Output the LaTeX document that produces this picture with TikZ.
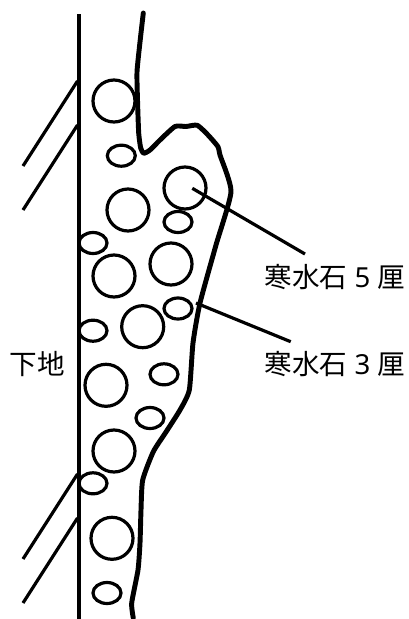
\documentclass[tikz,border=0pt]{standalone}
\usepackage{fontspec}
\setmainfont{Noto Sans}
\newfontfamily\cjkfont{Noto Sans CJK JP}
\begin{document}
\begin{tikzpicture}[x=0.75pt,y=-0.75pt,
  thinline/.style={draw=black,line width=2.4pt},
  thickline/.style={draw=black,line width=3.7pt,line join=round,line cap=round},
  stonebig/.style={draw=black,line width=2.4pt},
  labeltext/.style={inner sep=0pt,font=\fontsize{20.7}{24}\selectfont,text=black}]
\useasboundingbox (0,0) rectangle (409,619);
% substrate
\draw[thinline] (79,14) -- (79,619);
\draw[thinline] (77.5,81) -- (23,166);
\draw[thinline] (77.5,125) -- (23,210);
\draw[thinline] (77.5,474) -- (23,559);
\draw[thinline] (77.5,518) -- (23,603);
% outline of the plaster
\draw[thickline] plot[smooth,tension=0.35] coordinates {
 (143.3,13) (140,42) (137,72) (137.5,100) (138.7,133) (140.7,148) (143.7,153.3) (150,150)
 (160,140) (175,126.5) (186,126.5) (197.3,125.3) (208,135) (218,146.7) (220,155) (231,191.7)
 (216,245) (200,303) (193,343) (189.3,390) (180,410) (166,432) (153.3,451.7) (142.7,480)
 (141,510) (140,543) (138,570) (131.7,603) (133.3,618)};
% 5-li stones
\foreach \cx/\cy in {114/101,128/210,185/188,114/276,171/264,142.7/326.7,106/385.3,114/451,112/538.3}
  \draw[stonebig] (\cx,\cy) circle[radius=21];
% 3-li stones
\foreach \cx/\cy in {121.3/155.7,178/222,93/243,178/308.5,93/330.7,164/374.3,150/418,93/483.3,107/593}
  \draw[stonebig] (\cx,\cy) ellipse[x radius=14,y radius=10.5];
% labels
\node[labeltext,anchor=west] (five) at (264.5,277) {{\cjkfont 寒水石} 5 {\cjkfont 厘}};
\node[labeltext,anchor=west] (three) at (264.5,364) {{\cjkfont 寒水石} 3 {\cjkfont 厘}};
\node[labeltext,anchor=west] (base) at (9.5,364) {\cjkfont 下地};
% leaders
\coordinate (fivestone) at (192.3,188.3);
\coordinate (fiveend) at (305,254);
\coordinate (threestone) at (196,303);
\coordinate (threeend) at (290.7,341.7);
\draw[thinline] (fivestone) -- (fiveend);
\draw[thinline] (threestone) -- (threeend);
\end{tikzpicture}
\end{document}
